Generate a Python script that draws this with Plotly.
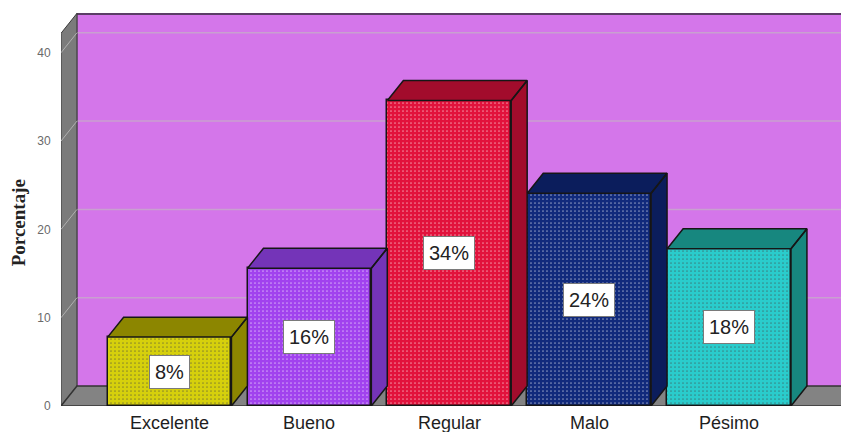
import plotly.graph_objects as go

# ---- data ----
categories = ["Excelente", "Bueno", "Regular", "Malo", "Pésimo"]
values = [7.8, 15.6, 34.6, 24.1, 17.8]
value_labels = ["8%", "16%", "34%", "24%", "18%"]
y_ticks = [0, 10, 20, 30, 40]

# ---- style ----
front_colors = ["#d6d00c", "#a142ee", "#e2123c", "#112a7c", "#2acccc"]
shade_colors = ["#8c8600", "#7434b8", "#a20c2c", "#0b1d5c", "#17877f"]
x_pos = list(range(len(categories)))
bar_w = 0.885
dx = 0.114      # depth offset (x units)
dy = 2.26       # depth offset (y units)
x_left = -0.776
x_right = 4.80
y_top = 44.5
y_axis_top = 42.2
edge = "#161616"

fig = go.Figure()

# front faces of bars
fig.add_trace(go.Bar(
    x=x_pos, y=values, width=bar_w,
    marker=dict(color=front_colors, line=dict(color=edge, width=1.5),
                pattern=dict(shape=".", fgcolor=shade_colors, size=4, solidity=0.15)),
    hoverinfo="skip", showlegend=False,
))

# top + side faces (3D look)
for i, (x, v) in enumerate(zip(x_pos, values)):
    xl, xr = x - bar_w / 2, x + bar_w / 2
    xs = [xl, xl + dx, xr + dx, xr, xl, None, xr, xr + dx, xr + dx, xr, xr]
    ys = [v, v + dy, v + dy, v, v, None, v, v + dy, dy, 0, v]
    fig.add_trace(go.Scatter(
        x=xs, y=ys, mode="lines", fill="toself", fillcolor=shade_colors[i],
        line=dict(color=edge, width=1.5), hoverinfo="skip", showlegend=False,
    ))

shapes = []
# back wall
shapes.append(dict(type="rect", xref="x", yref="y", x0=x_left + dx, x1=x_right + 0.2,
                   y0=dy, y1=y_top, fillcolor="#d476ea", line=dict(width=0), layer="below"))
shapes.append(dict(type="line", xref="x", yref="y", x0=x_left + dx, x1=x_right + 0.2,
                   y0=y_top - 0.12, y1=y_top - 0.12, line=dict(color="#5b3d66", width=2), layer="below"))
shapes.append(dict(type="line", xref="x", yref="y", x0=x_left + dx, x1=x_left + dx,
                   y0=dy, y1=y_top, line=dict(color="#4a4a4a", width=1), layer="below"))
# grid lines on back wall
for t in y_ticks[1:]:
    shapes.append(dict(type="line", xref="x", yref="y", x0=x_left + dx, x1=x_right + 0.2,
                       y0=t + dy, y1=t + dy, line=dict(color="rgba(200,165,205,0.9)", width=1.5),
                       layer="below"))
# side wall
shapes.append(dict(type="path", xref="x", yref="y",
                   path=f"M {x_left},0 L {x_left},{y_axis_top} L {x_left + dx},{y_axis_top + dy} "
                        f"L {x_left + dx},{dy} Z",
                   fillcolor="#7b7b7b", line=dict(color="#3a3a3a", width=1), layer="below"))
for t in y_ticks[1:]:
    shapes.append(dict(type="line", xref="x", yref="y", x0=x_left, x1=x_left + dx,
                       y0=t, y1=t + dy, line=dict(color="#b0b0b0", width=1), layer="below"))
# floor
shapes.append(dict(type="path", xref="x", yref="y",
                   path=f"M {x_left},0 L {x_right + 0.2},0 L {x_right + 0.2},{dy} L {x_left + dx},{dy} Z",
                   fillcolor="#838383", line=dict(color="#333333", width=1.5), layer="below"))

annotations = []
for x, v, lab in zip(x_pos, values, value_labels):
    annotations.append(dict(x=x, y=v / 2, xref="x", yref="y", text=lab, showarrow=False,
                            bgcolor="white", bordercolor="#7a7a7a", borderwidth=1, borderpad=5,
                            font=dict(family="Liberation Sans, Arial", size=20, color="#222222")))
# category labels under the bars
for x, cat in zip(x_pos, categories):
    annotations.append(dict(x=x, y=0, xref="x", yref="paper", text=cat, showarrow=False,
                            xanchor="center", yanchor="top", yshift=-5,
                            font=dict(family="Liberation Sans, Arial", size=18, color="#1e1e1e")))
annotations.append(dict(x=-0.055, y=20.7, xref="paper", yref="y", text="<b>Porcentaje</b>",
                        showarrow=False, textangle=-90, xanchor="center", yanchor="middle",
                        font=dict(family="Liberation Serif, Times New Roman", size=19, color="#222222")))

fig.update_layout(
    width=841, height=432,
    margin=dict(l=61, r=0, t=13, b=26),
    paper_bgcolor="white", plot_bgcolor="white",
    shapes=shapes, annotations=annotations,
    bargap=0, showlegend=False,
    xaxis=dict(range=[x_left, x_right], tickvals=x_pos, showticklabels=False,
               showgrid=False, zeroline=False, showline=False, automargin=False, ticks=""),
    yaxis=dict(range=[0, y_top], tickvals=y_ticks, ticktext=[str(t) for t in y_ticks],
               showgrid=False, zeroline=False, showline=False, automargin=False,
               ticks="outside", ticklen=7, tickcolor="rgba(0,0,0,0)",
               tickfont=dict(family="Liberation Sans, Arial", size=12, color="#6a6a6a")),
)

fig.write_html("out.html")
